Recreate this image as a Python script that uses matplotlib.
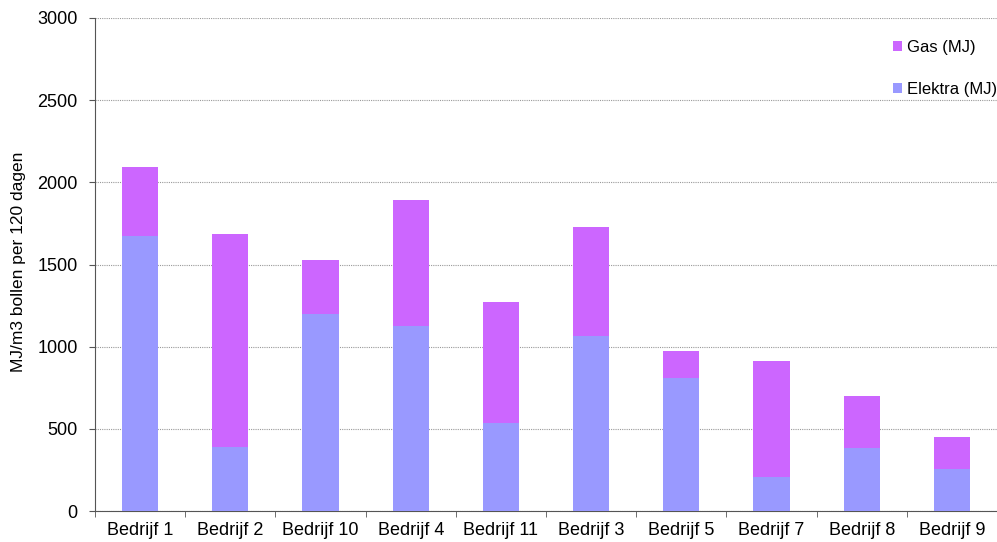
import matplotlib
matplotlib.use("Agg")
import matplotlib.pyplot as plt
import numpy as np

plt.rcParams['font.family'] = ['Liberation Sans', 'DejaVu Sans']

categories = ["Bedrijf 1", "Bedrijf 2", "Bedrijf 10", "Bedrijf 4", "Bedrijf 11",
              "Bedrijf 3", "Bedrijf 5", "Bedrijf 7", "Bedrijf 8", "Bedrijf 9"]
totals = [2093, 1688, 1528, 1893, 1272, 1729, 974, 913, 700, 450]
elektra = [1674, 390, 1199, 1126, 536, 1065, 810, 207, 383, 256]
gas = [t - e for t, e in zip(totals, elektra)]

fig = plt.figure(figsize=(9.97, 5.42), dpi=100)
ax = fig.add_axes([95/997, 31/542, 902/997, 493/542])

x = np.arange(len(categories))
w = 0.4
ax.bar(x, elektra, w, color="#9999FF", label="Elektra (MJ)", zorder=3)
ax.bar(x, gas, w, bottom=elektra, color="#CC66FF", label="Gas (MJ)", zorder=3)

ax.set_xlim(-0.5, len(categories) - 0.5)
ax.set_ylim(0, 3000)
ax.set_yticks(np.arange(0, 3001, 500))
ax.yaxis.grid(True, color="#999999", linestyle=(0, (1, 1)), linewidth=0.8, zorder=0)
ax.set_xticks(x)
ax.set_xticklabels(categories, fontsize=13)
ax.set_xticks(np.arange(-0.5, len(categories) + 0.5, 1), minor=True)
ax.tick_params(axis='x', which='major', length=0, pad=8)
ax.tick_params(axis='x', which='minor', length=4, color="#555555")
ax.tick_params(axis='y', labelsize=13, length=4, pad=8.5, color="#555555")
fig.text(19/997, 1 - 262/542, "MJ/m3 bollen per 120 dagen", rotation=90,
         fontsize=12.5, ha="center", va="center")
for s in ["top", "right"]:
    ax.spines[s].set_visible(False)
for s in ["left", "bottom"]:
    ax.spines[s].set_color("#555555")

h, l = ax.get_legend_handles_labels()
ax.legend(h[::-1], l[::-1], loc="upper right", frameon=False, fontsize=12,
          handlelength=0.55, handleheight=0.55, handletextpad=0.3,
          labelspacing=1.62, borderpad=0, borderaxespad=0,
          bbox_to_anchor=(1.0, 1 - 22/493))

fig.savefig("out.png", dpi=100)
